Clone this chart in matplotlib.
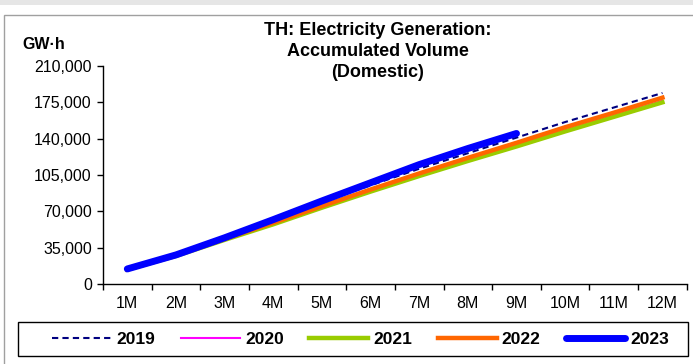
import matplotlib
matplotlib.use("Agg")
import matplotlib.pyplot as plt
from matplotlib.ticker import FuncFormatter, FixedLocator
from matplotlib.patches import Rectangle

plt.rcParams['font.family'] = ['Liberation Sans', 'DejaVu Sans']

months = ["1M", "2M", "3M", "4M", "5M", "6M", "7M", "8M", "9M", "10M", "11M", "12M"]
y2019 = [15000, 29000, 45500, 62000, 79000, 95000, 111000, 126000, 141000, 156000, 170000, 184000]
y2020 = [14500, 28000, 43500, 58500, 74500, 90000, 105000, 119500, 133500, 148000, 162000, 176500]
y2021 = [14000, 27000, 42500, 57500, 73500, 89000, 104000, 118500, 132500, 147000, 161000, 175000]
y2022 = [14000, 27500, 43500, 59000, 75000, 91000, 106500, 121500, 136000, 151000, 165000, 179500]
y2023 = [14500, 28000, 44500, 62000, 80000, 97500, 115000, 130500, 145000]

fig = plt.figure(figsize=(6.93, 3.64), dpi=100)
ax = fig.add_axes([0.1486, 0.2198, 0.8424, 0.5989])

x = list(range(1, 13))
ax.plot(x, y2019, color="#000080", lw=1.5, ls=(0, (3, 2)), label="2019", zorder=5)
ax.plot(x, y2020, color="#ff00ff", lw=1.5, label="2020", zorder=2)
ax.plot(x, y2021, color="#99cc00", lw=3.2, label="2021", zorder=3)
ax.plot(x, y2022, color="#ff6600", lw=3.2, label="2022", zorder=4)
ax.plot(x[:len(y2023)], y2023, color="#0000ff", lw=5, label="2023",
        solid_capstyle="round", zorder=6)

ax.set_xlim(0.5, 12.5)
ax.set_ylim(0, 210000)
ax.set_yticks(range(0, 210001, 35000))
ax.yaxis.set_major_formatter(FuncFormatter(lambda v, p: f"{int(v):,}"))
ax.set_xticks(x)
ax.set_xticklabels(months)
ax.xaxis.set_minor_locator(FixedLocator([i + 0.5 for i in range(0, 13)]))
ax.tick_params(axis="x", which="major", length=0, labelsize=11.5, pad=9)
ax.tick_params(axis="x", which="minor", length=4, width=1)
ax.tick_params(axis="y", length=4, width=1, labelsize=11.5, pad=4)
for s in ["top", "right"]:
    ax.spines[s].set_visible(False)
for s in ["left", "bottom"]:
    ax.spines[s].set_linewidth(1)

fig.text(0.545, 0.94, "TH: Electricity Generation:\nAccumulated Volume\n(Domestic)",
         ha="center", va="top", fontsize=13, fontweight="bold", linespacing=1.3)
fig.text(0.032, 0.877, "GW·h", ha="left", va="center", fontsize=11.5, fontweight="bold")

leg = ax.legend(loc="center", bbox_to_anchor=(0.068, 0.022, 0.905, 0.093),
                bbox_transform=fig.transFigure, ncol=5, mode="expand",
                frameon=False, handlelength=3.4,
                prop={"weight": "bold", "size": 12.5}, borderaxespad=0,
                handletextpad=0.3, columnspacing=1.0, borderpad=0.3)

# legend frame, page background strip and chart border
fig.patches.append(Rectangle((18 / 693, 8 / 364), 670 / 693, 34 / 364,
                             transform=fig.transFigure, facecolor="none",
                             edgecolor="black", lw=1))
fig.patches.append(Rectangle((0, 0.985), 1, 0.015, transform=fig.transFigure,
                             facecolor="#e6e6e6", edgecolor="none"))
fig.patches.append(Rectangle((0.006, -0.01), 1.0, 0.97, transform=fig.transFigure,
                             facecolor="none", edgecolor="#a0a0a0", lw=1))

fig.savefig("out.png", dpi=100)
